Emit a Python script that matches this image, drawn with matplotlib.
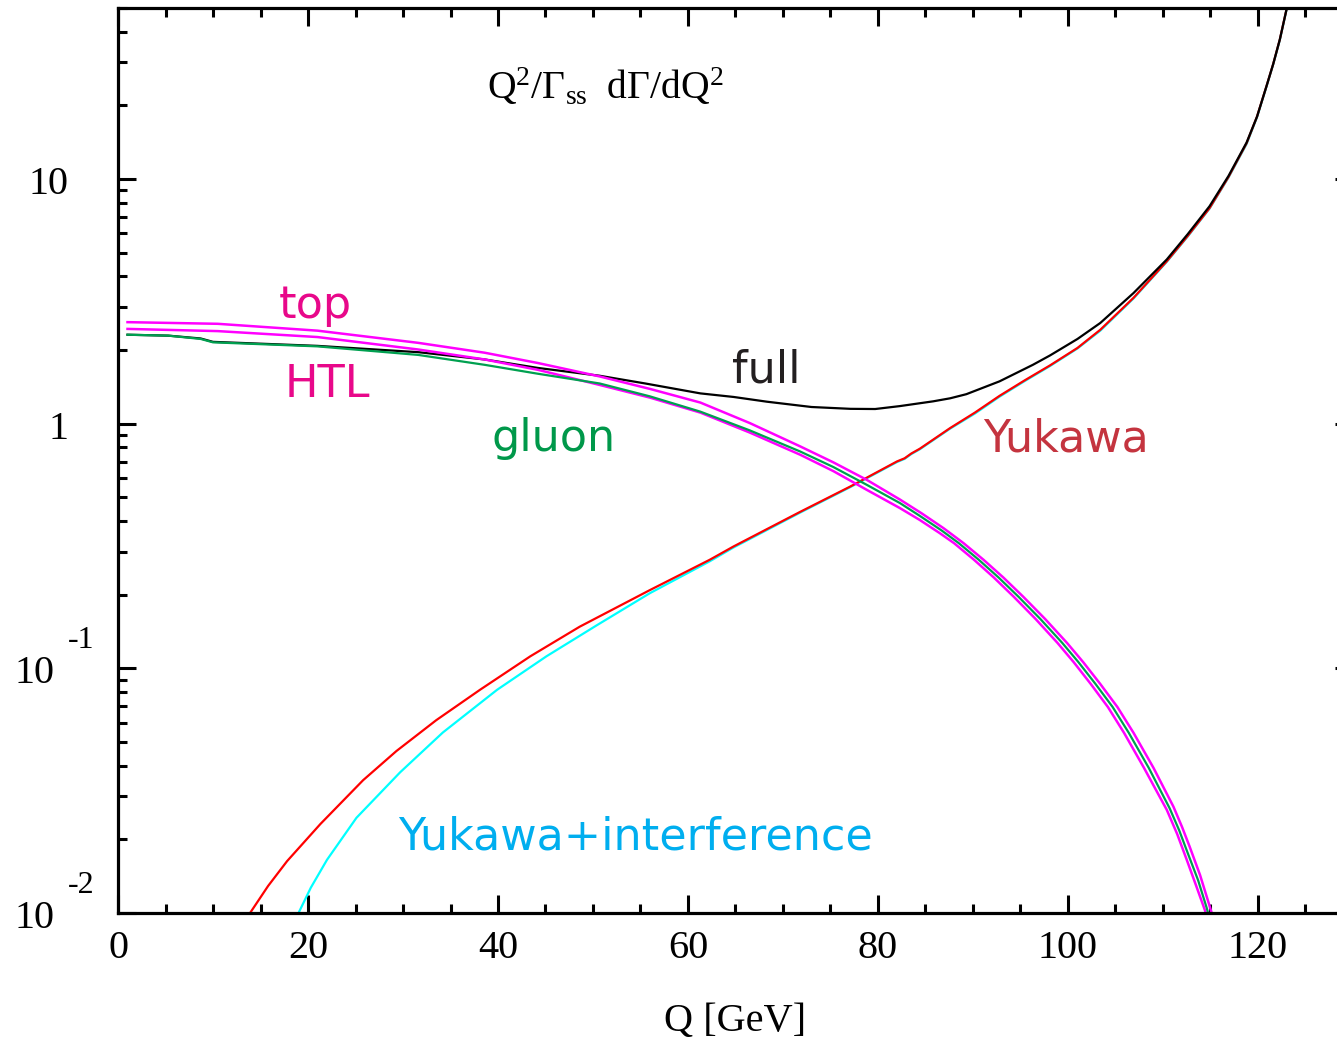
import matplotlib
matplotlib.use('Agg')
import matplotlib.pyplot as plt
from matplotlib.ticker import MultipleLocator, LogLocator, NullFormatter

plt.rcParams['font.family'] = ['Liberation Serif', 'DejaVu Serif']
plt.rcParams['mathtext.fontset'] = 'custom'
plt.rcParams['mathtext.rm'] = 'Liberation Serif'
plt.rcParams['mathtext.it'] = 'Liberation Serif:italic'

# Q [GeV] and Q^2/Gamma_ss dGamma/dQ^2
q_top = [1, 10.5, 21, 31.6, 38.6, 44.2, 50.7, 56.0, 61.3, 66.5, 71.8, 75.3, 78.8, 82.3,
         84.6, 86.9, 89.0, 91.1, 93.2, 95.3, 97.6, 99.9, 101.6, 103.4, 105.2, 106.9,
         109.0, 111.1, 112.0, 112.8, 113.9, 114.9, 115.3]
top = [2.60, 2.56, 2.40, 2.14, 1.95, 1.77, 1.56, 1.387, 1.22, 1.006, 0.808, 0.695, 0.590,
       0.490, 0.430, 0.374, 0.325, 0.278, 0.235, 0.196, 0.159, 0.127, 0.106, 0.0863,
       0.0695, 0.0545, 0.0392, 0.0272, 0.0225, 0.0187, 0.0143, 0.0107, 0.0095]

q_htl = [1, 10.5, 21, 31.6, 38.6, 44.2, 50.7, 56.0, 61.3, 66.5, 71.8, 75.3, 78.8, 82.3,
         84.4, 86.5, 88.0, 90.1, 92.2, 94.3, 96.6, 98.9, 100.6, 102.4, 104.2, 105.9,
         108.0, 110.4, 111.5, 112.5, 113.5, 114.4, 114.7]
htl = [2.44, 2.39, 2.26, 2.01, 1.83, 1.66, 1.44, 1.278, 1.11, 0.920, 0.747, 0.640, 0.537,
       0.452, 0.404, 0.357, 0.325, 0.278, 0.235, 0.196, 0.159, 0.127, 0.106, 0.0863,
       0.0695, 0.0545, 0.0392, 0.0264, 0.0210, 0.0165, 0.0129, 0.0103, 0.0095]

q_glu = [1, 5.3, 8.7, 10.0, 21, 31.6, 38.6, 44.2, 50.7, 56.0, 61.3, 66.5, 71.8, 75.3,
         78.8, 82.3, 84.4, 86.7, 88.5, 90.6, 92.7, 94.8, 97.1, 99.4, 101.1, 102.9, 104.7,
         106.4, 108.5, 110.7, 111.7, 112.6, 113.7, 114.6, 114.9]
glu = [2.31, 2.29, 2.22, 2.15, 2.07, 1.91, 1.74, 1.60, 1.46, 1.293, 1.12, 0.939, 0.77,
       0.665, 0.563, 0.474, 0.420, 0.366, 0.325, 0.278, 0.235, 0.196, 0.159, 0.127, 0.106,
       0.0863, 0.0695, 0.0545, 0.0392, 0.0268, 0.0218, 0.0176, 0.0136, 0.0105, 0.0095]

q_full = [1, 5.3, 8.7, 10.0, 21, 31.6, 38.6, 44.2, 50.7, 55.5, 61.3, 64.8, 68.3, 71.8,
          73.0, 77.1, 79.7, 82.3, 85.8, 87.6, 89.3, 92.8, 96.3, 98.1, 101.0, 103.4, 106.9,
          110.4, 112.6, 114.9, 116.9, 118.8, 119.9, 120.9, 121.6, 122.3, 123.0, 123.2]
full = [2.31, 2.29, 2.23, 2.16, 2.08, 1.96, 1.83, 1.69, 1.57, 1.46, 1.33, 1.286, 1.23,
        1.185, 1.17, 1.15, 1.148, 1.18, 1.234, 1.27, 1.32, 1.49, 1.74, 1.90, 2.22, 2.58,
        3.42, 4.69, 5.95, 7.74, 10.3, 14.1, 18.0, 24.0, 29.5, 37.2, 49.3, 52.0]

q_yuk = [13.6, 13.9, 15.8, 17.8, 21.3, 25.8, 29.3, 33.5, 38.1, 43.4, 48.6, 56.0, 62.3,
         64.8, 71.8, 77.1, 82.0, 82.8, 83.5, 84.4, 87.6, 90.2, 92.8, 95.4, 98.1, 101.0,
         103.4, 106.9, 110.4, 112.6, 114.9, 116.9, 118.8, 119.9, 120.9, 121.6, 122.3,
         123.0, 123.2]
yuk = [0.0096, 0.0100, 0.0129, 0.0163, 0.0231, 0.0349, 0.0459, 0.0614, 0.0817, 0.112,
       0.148, 0.209, 0.278, 0.315, 0.436, 0.554, 0.701, 0.722, 0.755, 0.79, 0.96, 1.11,
       1.30, 1.50, 1.73, 2.04, 2.42, 3.27, 4.61, 5.85, 7.6, 10.2, 14.0, 18.0, 24.0, 29.5,
       37.2, 49.3, 52.0]

q_int = [18.8, 19.0, 20.3, 22.0, 25.1, 29.7, 34.2, 39.9, 45.1, 50.4, 56.0, 62.3, 64.8,
         71.8, 77.1, 82.0, 82.8, 83.5, 84.4, 87.6, 90.2, 92.8, 95.4, 98.1, 101.0, 103.4,
         106.9, 110.4, 112.6, 114.9, 116.9, 118.8, 119.9, 120.9, 121.6, 122.3, 123.0, 123.2]
intf = [0.0097, 0.0100, 0.0127, 0.0165, 0.0245, 0.0376, 0.0547, 0.0817, 0.112, 0.150,
        0.203, 0.274, 0.312, 0.433, 0.551, 0.697, 0.718, 0.751, 0.786, 0.955, 1.10, 1.29,
        1.49, 1.72, 2.03, 2.40, 3.25, 4.59, 5.82, 7.57, 10.15, 13.9, 17.9, 23.9, 29.4,
        37.0, 49.1, 52.0]

fig = plt.figure(figsize=(13.37, 10.40), dpi=100)
ax = fig.add_axes([0.08826, 0.1221, 0.9237, 0.8702])

ax.plot(q_int, intf, color='#00ffff', lw=1.6)
ax.plot(q_yuk, yuk, color='#ff0000', lw=1.6)
ax.plot(q_full, full, color='black', lw=1.6)
ax.plot(q_top, top, color='#ff00ff', lw=1.8)
ax.plot(q_htl, htl, color='#ff00ff', lw=1.8)
ax.plot(q_glu, glu, color='#00a050', lw=1.6)

ax.set_yscale('log')
ax.set_xlim(0, 130)
ax.set_ylim(0.01, 50)

ax.xaxis.set_major_locator(MultipleLocator(20))
ax.xaxis.set_minor_locator(MultipleLocator(5))
ax.yaxis.set_major_locator(LogLocator(base=10, numticks=10))
ax.yaxis.set_minor_locator(LogLocator(base=10, subs=range(2, 10), numticks=20))
ax.yaxis.set_major_formatter(NullFormatter())
ax.yaxis.set_minor_formatter(NullFormatter())

for s in ax.spines.values():
    s.set_linewidth(2.3)
ax.tick_params(which='both', direction='in', top=True, right=True, width=2.2)
ax.tick_params(which='major', length=13, labelsize=29, pad=12)
ax.tick_params(which='minor', length=6.5)

ax.set_xlabel('Q [GeV]', fontsize=29, labelpad=26)

# y tick labels written like the original: 10, 1, 10 -1, 10 -2
ytr = ax.get_yaxis_transform()
for val, base, exp in [(10, '10', None), (1, '1', None), (0.1, '10', '-1'), (0.01, '10', '-2')]:
    if exp is None:
        ax.annotate(base, xy=(0, val), xycoords=ytr, xytext=(-50, -15),
                    textcoords='offset pixels', ha='right', va='baseline', fontsize=29)
    else:
        ax.annotate(base, xy=(0, val), xycoords=ytr, xytext=(-64, -15),
                    textcoords='offset pixels', ha='right', va='baseline', fontsize=29)
        ax.annotate(exp, xy=(0, val), xycoords=ytr, xytext=(-50, 20),
                    textcoords='offset pixels', ha='left', va='baseline', fontsize=23,
                    annotation_clip=False)

ax.text(38.8, 21.3, r'$\mathregular{Q^2/\Gamma_{ss}\ \ d\Gamma/dQ^2}$', fontsize=28.5,
        ha='left', va='baseline')

lab = dict(fontsize=32, family='DejaVu Sans', ha='left', va='baseline')
ax.text(16.9, 2.71, 'top', color='#e8088a', **lab)
ax.text(17.5, 1.29, 'HTL', color='#e8088a', **lab)
ax.text(64.6, 1.467, 'full', color='#231f20', **lab)
ax.text(39.3, 0.776, 'gluon', color='#00984a', **lab)
ax.text(91.05, 0.768, 'Yukawa', color='#c4343f', **lab)
ax.text(29.5, 0.01822, 'Yukawa+interference', color='#00aeef', **lab)

fig.savefig('out.png', dpi=100)
